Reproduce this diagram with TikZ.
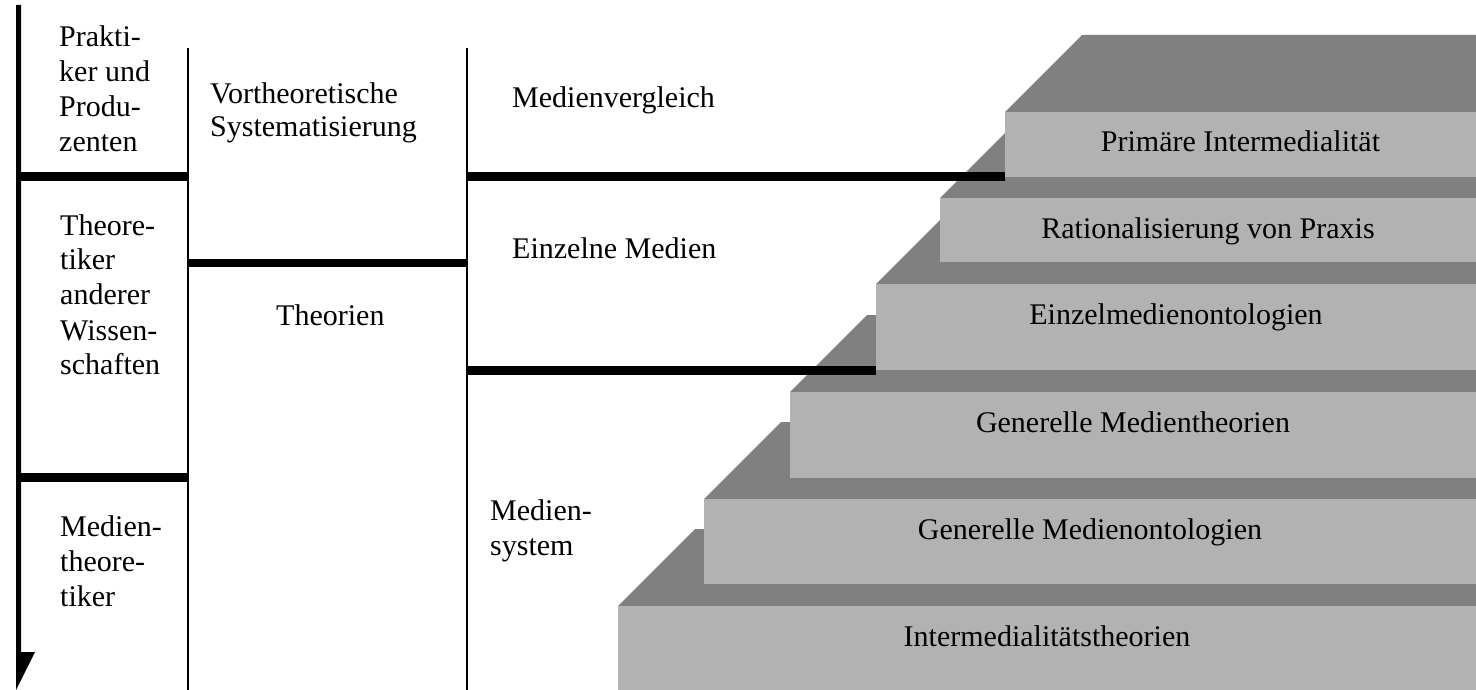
\documentclass[tikz,border=0pt]{standalone}
\usepackage{fontspec}
\setmainfont{Liberation Serif}
\newcommand\linesof[2][35pt]{\vtop{\baselineskip=#1\lineskiplimit=-100pt\lineskip=0pt #2}}
\begin{document}
\begin{tikzpicture}[x=1pt,y=-1pt,
  txt/.style={anchor=base west,inner sep=0pt,font=\fontsize{30}{35}\selectfont},
  steplabel/.style={anchor=base,inner sep=0pt,font=\fontsize{30}{35}\selectfont},
  front/.style={fill=frontgray},
  topface/.style={fill=topgray},
  rule/.style={line width=9pt},
  thin/.style={line width=2pt}]
\definecolor{frontgray}{RGB}{178,178,178}
\definecolor{topgray}{RGB}{128,128,128}
\useasboundingbox (0,0) rectangle (1476,690);

% staircase, bottom step first so each upper front hides the top face behind it
\foreach \name/\x/\top/\bot/\lab in {
  s6/618/606/690/Intermedialitätstheorien,
  s5/704/499/584/Generelle Medienontologien,
  s4/790/392/478/Generelle Medientheorien,
  s3/876/284/370/Einzelmedienontologien,
  s2/940/198/262/Rationalisierung von Praxis,
  s1/1005/112/177/Primäre Intermedialität}{
  \fill[topface] (\x,\top) -- (\x+77,\top-77) -- (1476,\top-77) -- (1476,\top) -- cycle;
  \fill[front] (\x,\top) rectangle (1476,\bot);
  \coordinate (\name-w) at (\x,\top);
  \node[steplabel] (\name) at ({(\x+1476)/2},\top+40) {\lab};
}

% time axis on the left
\fill (16,5) -- (21,5) -- (21,652) -- (35,652) -- (16,690) -- cycle;

% column separators
\coordinate (c1top) at (188,48);  \coordinate (c1bot) at (188,690);
\coordinate (c2top) at (467,48);  \coordinate (c2bot) at (467,690);
\draw[thin] (c1top) -- (c1bot);
\draw[thin] (c2top) -- (c2bot);

% section boundaries
\coordinate (a1) at (21,177);  \coordinate (a2) at (188,177);
\coordinate (b1) at (21,477);  \coordinate (b2) at (188,477);
\coordinate (m1) at (188,263); \coordinate (m2) at (467,263);
\coordinate (r1) at (467,177); \coordinate (r2) at (1005,177);
\coordinate (q1) at (467,370); \coordinate (q2) at (876,370);
\draw[rule] (a1) -- (a2);
\draw[rule] (b1) -- (b2);
\draw[rule,line width=8pt] (m1) -- (m2);
\draw[rule] (r1) -- (r2);
\draw[rule] (q1) -- (q2);

% column texts
\node[txt] (prak) at (59,47) {\linesof{\hbox{Prakti-}\hbox{ker und}\hbox{Produ-}\hbox{zenten}}};
\node[txt] (theo) at (60,235) {\linesof{\hbox{Theore-}\hbox{tiker}\hbox{anderer}\hbox{Wissen-}\hbox{schaften}}};
\node[txt] (medt) at (60,536) {\linesof{\hbox{Medien-}\hbox{theore-}\hbox{tiker}}};
\node[txt] (vort) at (210,104) {\linesof[33pt]{\hbox{Vortheoretische}\hbox{Systematisierung}}};
\node[txt] (theorien) at (276,325) {Theorien};
\node[txt] (mvgl) at (512,108) {Medienvergleich};
\node[txt] (einz) at (512,258) {Einzelne Medien};
\node[txt] (msys) at (490,520) {\linesof{\hbox{Medien-}\hbox{system}}};
\end{tikzpicture}
\end{document}
